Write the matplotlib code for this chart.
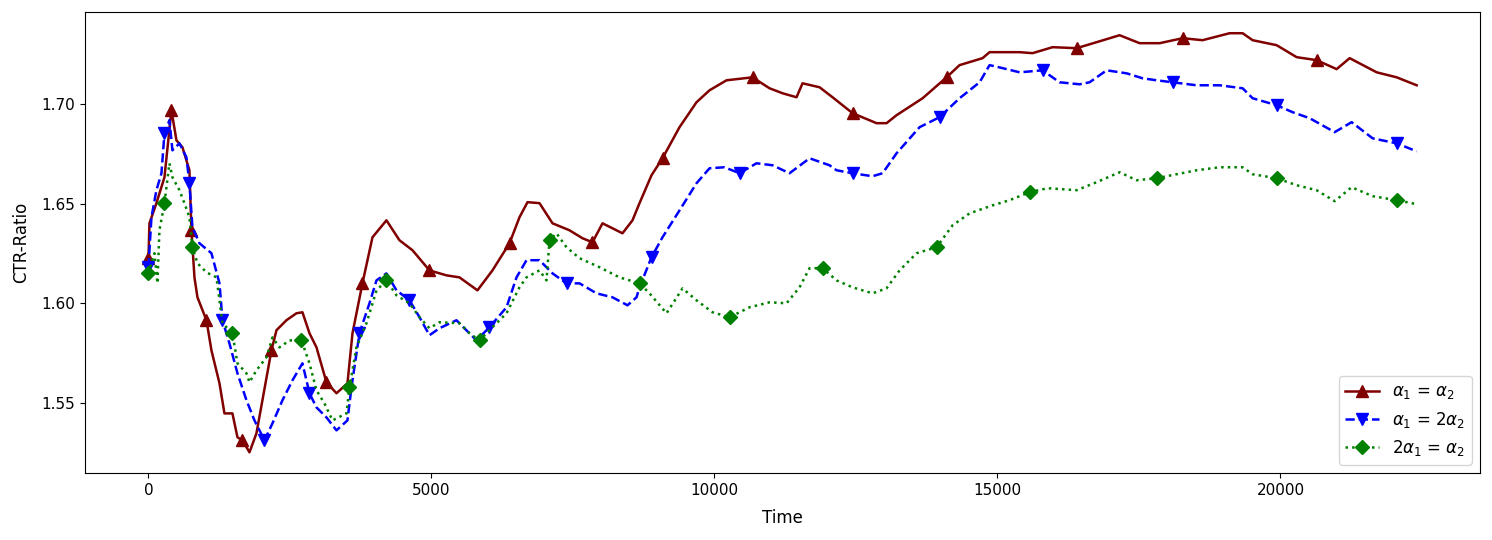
import numpy as np
import matplotlib
matplotlib.use("Agg")
import matplotlib.pyplot as plt

# alpha1 = alpha2
t_eq = [0, 18, 141, 283, 406, 495, 601, 724, 760, 813, 866, 1025, 1113, 1255, 1343, 1484,
        1573, 1661, 1785, 1908, 2014, 2173, 2262, 2438, 2615, 2721, 2845, 2969, 3145, 3322,
        3516, 3605, 3781, 3958, 4205, 4435, 4665, 4965, 5266, 5495, 5813, 6078, 6379, 6555,
        6697, 6909, 7139, 7439, 7669, 7845, 8022, 8375, 8552, 8676, 8888, 9082, 9383, 9683,
        9913, 10213, 10673, 10973, 11203, 11450, 11556, 11857, 12086, 12440, 12864, 13040,
        13217, 13677, 14101, 14330, 14737, 14860, 15391, 15620, 15974, 16398, 16751, 17158,
        17511, 17864, 18271, 18624, 19101, 19331, 19508, 19932, 20285, 20638, 20992, 21222,
        21699, 22052, 22406]
ctr_eq = [1.6226, 1.6401, 1.6502, 1.6632, 1.6968, 1.6817, 1.6782, 1.6667, 1.6366, 1.6130,
          1.6030, 1.5915, 1.5764, 1.5599, 1.5448, 1.5448, 1.5328, 1.5313, 1.5253, 1.5348,
          1.5514, 1.5764, 1.5865, 1.5915, 1.5950, 1.5955, 1.5850, 1.5779, 1.5604, 1.5549,
          1.5599, 1.5850, 1.6100, 1.6331, 1.6416, 1.6316, 1.6266, 1.6165, 1.6140, 1.6130,
          1.6065, 1.6165, 1.6301, 1.6431, 1.6507, 1.6502, 1.6401, 1.6366, 1.6326, 1.6306,
          1.6401, 1.6351, 1.6416, 1.6502, 1.6642, 1.6727, 1.6883, 1.7008, 1.7068, 1.7118,
          1.7133, 1.7078, 1.7053, 1.7033, 1.7103, 1.7083, 1.7033, 1.6953, 1.6903, 1.6903,
          1.6943, 1.7028, 1.7133, 1.7194, 1.7229, 1.7259, 1.7259, 1.7254, 1.7284, 1.7279,
          1.7309, 1.7344, 1.7304, 1.7304, 1.7329, 1.7319, 1.7354, 1.7354, 1.7319, 1.7294,
          1.7234, 1.7219, 1.7174, 1.7229, 1.7158, 1.7133, 1.7093]

# alpha1 = 2 alpha2
t_a1 = [0, 53, 141, 230, 283, 371, 424, 548, 671, 724, 777, 901, 1113, 1255, 1308, 1431,
        1573, 1732, 1873, 2050, 2191, 2368, 2545, 2721, 2845, 2969, 3145, 3322, 3516, 3587,
        3728, 3905, 4029, 4205, 4382, 4612, 4789, 4965, 5142, 5442, 5796, 6025, 6326, 6503,
        6679, 6909, 7139, 7386, 7616, 7916, 8199, 8464, 8623, 8676, 8888, 9082, 9383, 9683,
        9913, 10178, 10443, 10743, 11026, 11326, 11680, 12033, 12157, 12440, 12793, 12970,
        13217, 13624, 13977, 14330, 14684, 14860, 15090, 15391, 15797, 16097, 16451, 16627,
        16928, 17281, 17564, 17811, 18094, 18518, 18925, 19331, 19508, 19932, 20215, 20515,
        20957, 21257, 21628, 22052, 22406]
ctr_a1 = [1.6181, 1.6431, 1.6567, 1.6652, 1.6853, 1.6918, 1.6767, 1.6802, 1.6732, 1.6602,
          1.6381, 1.6301, 1.6251, 1.6100, 1.5915, 1.5799, 1.5649, 1.5514, 1.5413, 1.5313,
          1.5398, 1.5514, 1.5614, 1.5699, 1.5549, 1.5478, 1.5428, 1.5363, 1.5413, 1.5579,
          1.5850, 1.6000, 1.6115, 1.6150, 1.6065, 1.6015, 1.5930, 1.5840, 1.5875, 1.5915,
          1.5814, 1.5880, 1.5980, 1.6130, 1.6216, 1.6216, 1.6150, 1.6100, 1.6100, 1.6050,
          1.6030, 1.5990, 1.6030, 1.6080, 1.6231, 1.6331, 1.6466, 1.6602, 1.6677, 1.6682,
          1.6652, 1.6702, 1.6692, 1.6652, 1.6727, 1.6692, 1.6667, 1.6652, 1.6637, 1.6652,
          1.6752, 1.6883, 1.6933, 1.7028, 1.7108, 1.7194, 1.7179, 1.7158, 1.7168, 1.7108,
          1.7098, 1.7108, 1.7168, 1.7153, 1.7128, 1.7118, 1.7108, 1.7093, 1.7093, 1.7078,
          1.7028, 1.6993, 1.6958, 1.6928, 1.6858, 1.6908, 1.6827, 1.6802, 1.6762]

# 2 alpha1 = alpha2
t_a2 = [0, 106, 159, 194, 283, 371, 424, 548, 636, 724, 777, 866, 1025, 1202, 1255, 1308,
        1484, 1573, 1732, 1785, 1908, 2085, 2191, 2315, 2491, 2704, 2845, 2969, 3110, 3251,
        3499, 3552, 3675, 3852, 4029, 4205, 4382, 4612, 4789, 4965, 5142, 5495, 5672, 5849,
        6025, 6326, 6555, 6679, 6909, 7033, 7086, 7209, 7386, 7616, 7969, 8322, 8676, 8852,
        9153, 9436, 9683, 9966, 10266, 10620, 10973, 11273, 11503, 11680, 11910, 12157,
        12440, 12793, 13040, 13270, 13571, 13924, 14207, 14507, 14913, 15214, 15567, 15885,
        16398, 16751, 17158, 17458, 17811, 18165, 18518, 18925, 19331, 19508, 19932, 20285,
        20638, 20957, 21257, 21628, 22052, 22406]
ctr_a2 = [1.6150, 1.6251, 1.6100, 1.6366, 1.6502, 1.6702, 1.6632, 1.6567, 1.6502, 1.6431,
          1.6281, 1.6201, 1.6155, 1.6130, 1.6015, 1.5900, 1.5850, 1.5699, 1.5649, 1.5604,
          1.5664, 1.5729, 1.5829, 1.5779, 1.5814, 1.5814, 1.5699, 1.5564, 1.5498, 1.5413,
          1.5448, 1.5579, 1.5779, 1.5900, 1.6065, 1.6115, 1.6040, 1.6000, 1.5930, 1.5875,
          1.5905, 1.5900, 1.5850, 1.5814, 1.5865, 1.5950, 1.6080, 1.6130, 1.6165, 1.6115,
          1.6316, 1.6351, 1.6281, 1.6226, 1.6181, 1.6130, 1.6100, 1.6050, 1.5950, 1.6075,
          1.6015, 1.5955, 1.5930, 1.5980, 1.6005, 1.6000, 1.6080, 1.6176, 1.6176, 1.6115,
          1.6080, 1.6050, 1.6075, 1.6165, 1.6251, 1.6281, 1.6391, 1.6451, 1.6491, 1.6517,
          1.6557, 1.6577, 1.6567, 1.6607, 1.6657, 1.6617, 1.6627, 1.6647, 1.6667, 1.6682,
          1.6682, 1.6647, 1.6627, 1.6592, 1.6567, 1.6512, 1.6582, 1.6537, 1.6517, 1.6497]

fig = plt.figure(figsize=(14.92, 5.4), dpi=100)
ax = fig.add_axes([0.057, 0.124, 0.935, 0.854])

ax.plot(t_eq, ctr_eq, color='maroon', linestyle='-', marker='^', markersize=8,
        markevery=0.085, linewidth=1.8, label=r'$\alpha_1$ = $\alpha_2$')
ax.plot(t_a1, ctr_a1, color='blue', linestyle='--', marker='v', markersize=8,
        markevery=0.085, linewidth=1.8, label=r'$\alpha_1$ = $2\alpha_2$')
ax.plot(t_a2, ctr_a2, color='green', linestyle=':', marker='D', markersize=7,
        markevery=0.085, linewidth=1.8, label=r'$2\alpha_1$ = $\alpha_2$')

ax.set_xlim(-1120, 23526)
ax.set_ylim(1.5149, 1.7461)
ax.set_yticks([1.55, 1.60, 1.65, 1.70])
ax.tick_params(labelsize=11)
ax.set_xlabel('Time', fontsize=12, labelpad=8)
ax.set_ylabel('CTR-Ratio', fontsize=12, labelpad=8)
ax.legend(loc='lower right', fontsize=12)

fig.savefig('out.png', dpi=100)
